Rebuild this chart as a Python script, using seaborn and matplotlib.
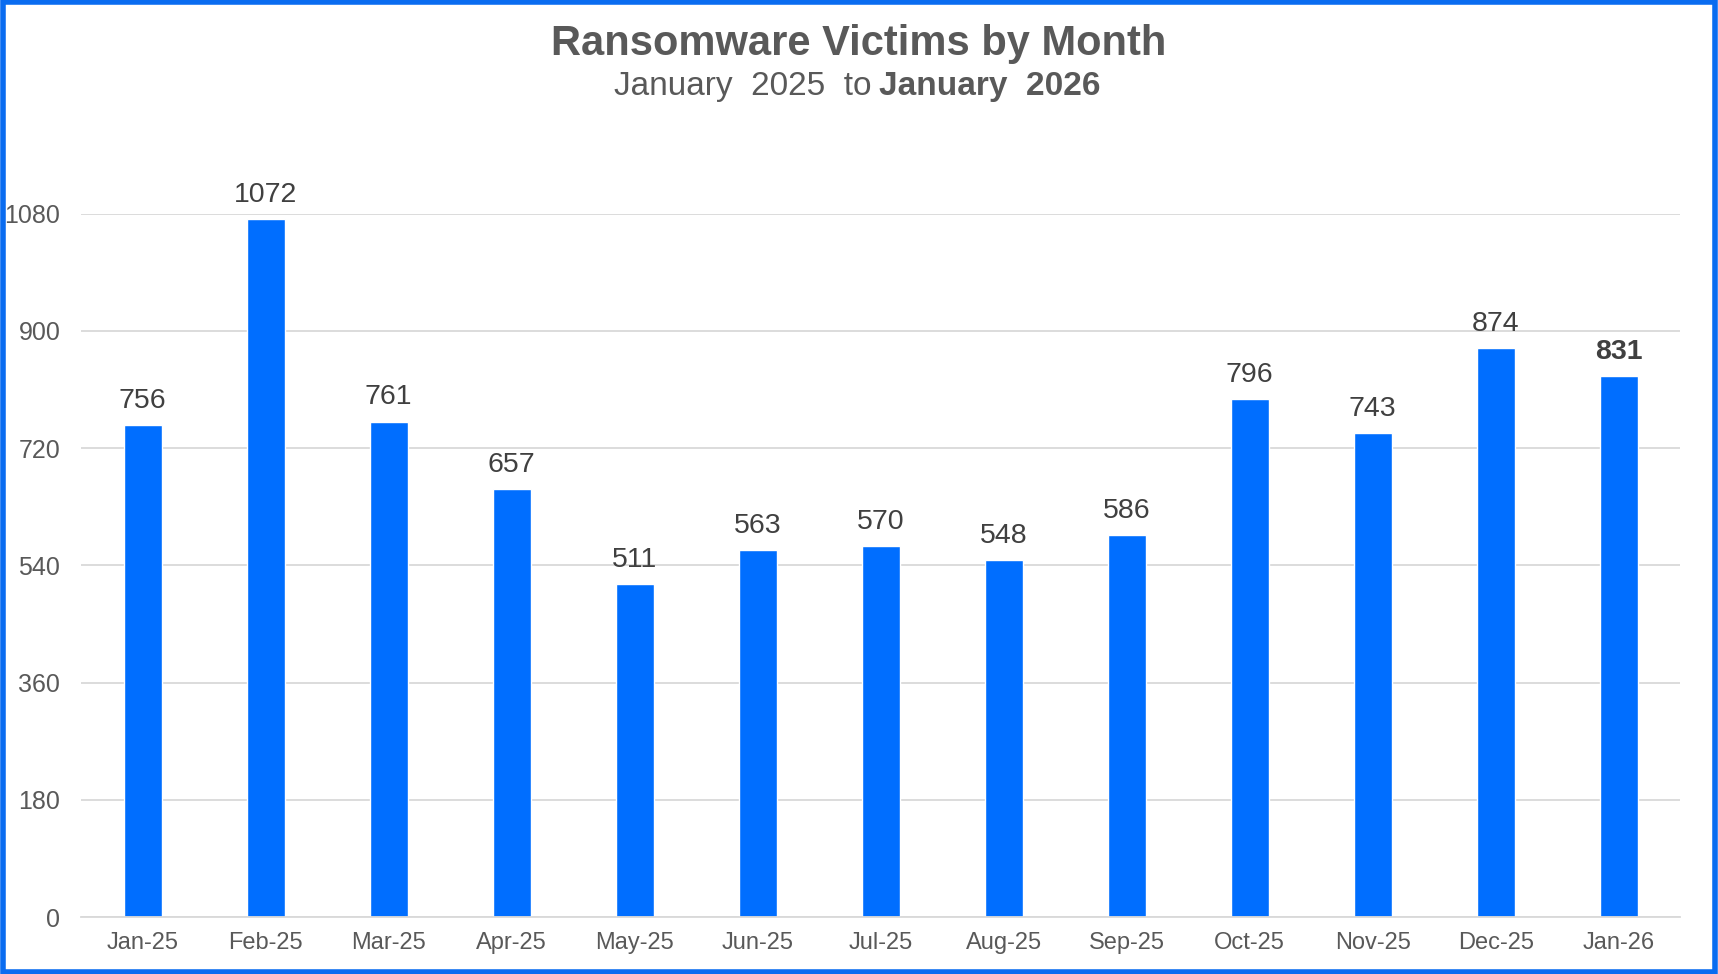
import matplotlib
matplotlib.use("Agg")
import matplotlib.pyplot as plt
import seaborn as sns
import pandas as pd
from matplotlib.patches import Rectangle
from matplotlib.ticker import FixedLocator

months = ["Jan-25", "Feb-25", "Mar-25", "Apr-25", "May-25", "Jun-25", "Jul-25",
          "Aug-25", "Sep-25", "Oct-25", "Nov-25", "Dec-25", "Jan-26"]
victims = [756, 1072, 761, 657, 511, 563, 570, 548, 586, 796, 743, 874, 831]
yticks = [0, 180, 360, 540, 720, 900, 1080]

BAR = "#006EFF"
BORDER = "#0A6CF0"
GRID = "#D9D9D9"
TXT = "#595959"

sns.set_theme(style="white")
plt.rcParams["font.family"] = ["Liberation Sans", "DejaVu Sans"]

df = pd.DataFrame({"month": months, "victims": victims})

fig = plt.figure(figsize=(17.18, 9.74), dpi=100)
ax = fig.add_axes([0.0472, 0.0585, 0.9308, 0.722])

sns.barplot(data=df, x="month", y="victims", color=BAR, width=0.31,
            saturation=1, ax=ax)

ax.set_ylim(0, 1080)
ax.set_xlim(-0.5, len(months) - 0.5)
ax.set_yticks(yticks)
ax.yaxis.grid(True, color=GRID, linewidth=1.3)
ax.set_axisbelow(True)
ax.set_xlabel("")
ax.set_ylabel("")
for s in ["top", "right", "left"]:
    ax.spines[s].set_visible(False)
ax.spines["bottom"].set_color(GRID)
ax.spines["bottom"].set_linewidth(1.3)

ax.tick_params(axis="y", length=0, labelsize=18, labelcolor=TXT, pad=15)
ax.tick_params(axis="x", which="major", length=0, labelsize=17, labelcolor=TXT, pad=11)
ax.xaxis.set_minor_locator(FixedLocator([i - 0.5 for i in range(len(months) + 1)]))
ax.tick_params(axis="x", which="minor", length=6, width=1.3, color=GRID)

for i, v in enumerate(victims):
    last = i == len(victims) - 1
    ax.annotate(str(v), (i, v), xytext=(0, 8), textcoords="offset points",
                ha="center", va="bottom", fontsize=20.5, color="#404040",
                fontweight="bold" if last else "normal")

fig.text(0.5, 0.955, "Ransomware Victims by Month", ha="center", va="center",
         fontsize=30, fontweight="bold", color=TXT)
fig.text(0.5075, 0.911, "January  2025  to", ha="right", va="center",
         fontsize=24, color=TXT)
fig.text(0.5115, 0.911, "January  2026", ha="left", va="center",
         fontsize=24, fontweight="bold", color=TXT)

fig.patches.append(Rectangle((0.0015, 0.0025), 0.997, 0.995, transform=fig.transFigure,
                             fill=False, edgecolor=BORDER, linewidth=4))

fig.savefig("out.png", dpi=100)
